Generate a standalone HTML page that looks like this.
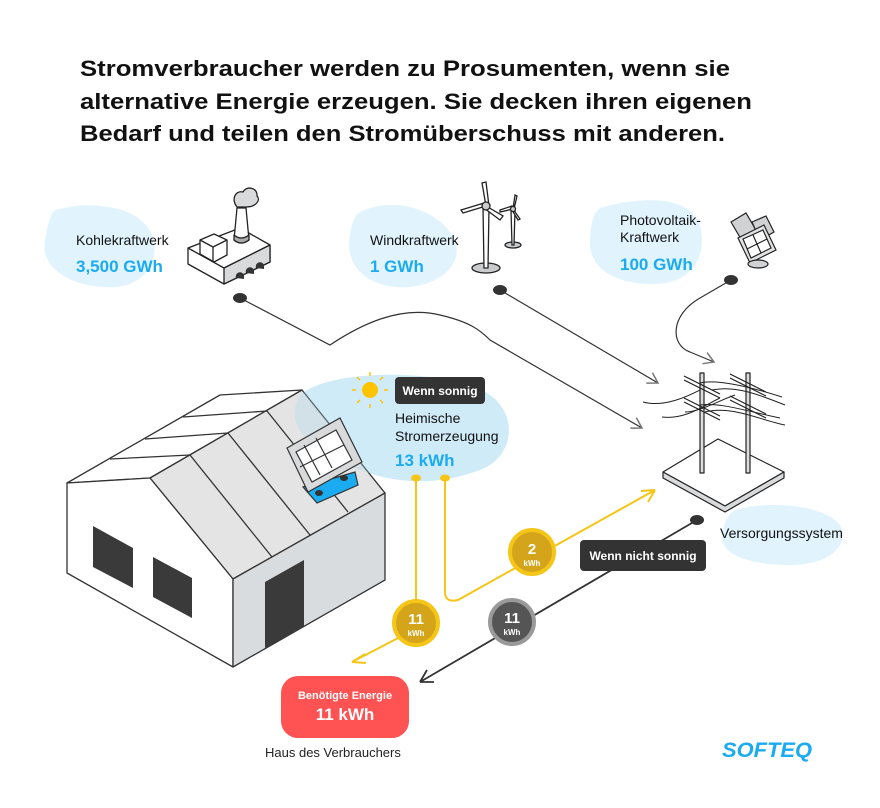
<!DOCTYPE html>
<html><head><meta charset="utf-8"><style>
html,body{margin:0;padding:0;background:#fff;}
svg{display:block;}
text{font-family:"Liberation Sans",sans-serif;}
</style></head><body>
<svg width="880" height="808" viewBox="0 0 880 808" xmlns="http://www.w3.org/2000/svg">
<defs>
<marker id="ag" markerWidth="14" markerHeight="14" refX="12" refY="7" orient="auto" markerUnits="userSpaceOnUse"><path d="M2,1 L12,7 L2,13" fill="none" stroke="#777" stroke-width="1.5"/></marker>
</defs>
<g font-weight="bold" font-size="22" fill="#111">
<text x="80" y="76" textLength="650" lengthAdjust="spacingAndGlyphs">Stromverbraucher werden zu Prosumenten, wenn sie</text>
<text x="80" y="109" textLength="672" lengthAdjust="spacingAndGlyphs">alternative Energie erzeugen. Sie decken ihren eigenen</text>
<text x="80" y="141" textLength="645" lengthAdjust="spacingAndGlyphs">Bedarf und teilen den Stromüberschuss mit anderen.</text>
</g>
<g fill="#e1f4fd">
<path d="M55,210 C90,200 140,205 152,235 C162,265 140,290 105,287 C65,285 40,265 45,240 C48,225 50,214 55,210Z"/>
<path d="M360,212 C395,195 440,210 455,240 C465,270 430,290 395,287 C360,283 345,260 350,235 C352,222 355,215 360,212Z"/>
<path d="M600,208 C640,196 690,195 700,225 C708,260 690,285 650,284 C610,283 588,265 590,240 C591,222 594,212 600,208Z"/>
<path d="M735,510 C770,500 825,505 840,525 C850,545 830,565 790,565 C750,565 720,555 722,535 C724,522 728,514 735,510Z"/>
</g>
<text x="76" y="245" font-size="14" fill="#111">Kohlekraftwerk</text>
<text x="76" y="272" font-size="17" font-weight="bold" fill="#1aabf0">3,500 GWh</text>
<text x="370" y="245" font-size="14" fill="#111">Windkraftwerk</text>
<text x="370" y="272" font-size="17" font-weight="bold" fill="#1aabf0">1 GWh</text>
<text x="620" y="225" font-size="14" fill="#111">Photovoltaik-</text>
<text x="620" y="242" font-size="14" fill="#111">Kraftwerk</text>
<text x="620" y="270" font-size="17" font-weight="bold" fill="#1aabf0">100 GWh</text>
<!-- factory -->
<g stroke="#222" stroke-width="1.3" stroke-linejoin="round">
<path d="M188,248 L240,228 L270,245 L270,262 L224,284 L188,264Z" fill="#fff"/>
<path d="M188,248 L224,268 L270,245" fill="none"/>
<path d="M224,268 L224,284 L270,262 L270,245Z" fill="#d8dadc"/>
<path d="M200,240 L214,234 L227,240 L227,255 L214,262 L200,254Z" fill="#fff"/>
<path d="M200,240 L213,247 L227,240 M213,247 L213,262" fill="none"/>
<path d="M234,240 L237,208 L246,208 L249,240 Q241,246 234,240Z" fill="#fff"/>
<path d="M234,235 Q241,241 249,235 L249,240 Q241,246 234,240Z" fill="#aaa"/>
<path d="M237,207 C231,200 235,190 243,192 C247,185 258,188 257,196 C261,200 256,207 246,207Z" fill="#d8dadc"/>
</g>
<g fill="#333"><path d="M236,278 a4,4 0 0 1 8,-3 v4z"/><path d="M246,273 a4,4 0 0 1 8,-3 v4z"/><path d="M256,268 a4,4 0 0 1 8,-3 v4z"/></g>
<!-- turbines -->
<g stroke="#222" stroke-width="1.3" fill="#fff">
<ellipse cx="486" cy="268" rx="14" ry="5" fill="#c9ccce"/>
<path d="M483,207 L489,207 L488,268 L484,268Z"/>
<path d="M486,206 L463,213 L461,210 L484,203Z"/>
<path d="M486,206 L482,183 L486,182 L489,206Z"/>
<path d="M486,206 L503,216 L500,220 L484,208Z"/>
<circle cx="486" cy="206" r="4" fill="#ccc"/>
<ellipse cx="513" cy="245" rx="8" ry="3" fill="#c9ccce"/>
<path d="M511,210 L515,210 L514,245 L512,245Z"/>
<path d="M513,209 L500,212 L500,210 L512,206Z"/>
<path d="M513,209 L515,195 L517,196 L514,209Z"/>
<path d="M513,209 L520,219 L518,220 L512,210Z"/>
<circle cx="513" cy="209" r="2.5" fill="#ccc"/>
</g>
<!-- pv plant -->
<g stroke="#222" stroke-width="1.2" fill="#d0d2d4">
<path d="M731,222 L746,213 L756,230 L741,239Z"/>
<path d="M752,222 L766,216 L774,232 L760,240Z"/>
<path d="M738,238 L764,225 L776,250 L750,263Z" fill="#e0e2e4"/>
<path d="M743,239 L763,230 L771,248 L751,258Z" fill="#fff"/>
<path d="M747,249 L767,239 M753,235 L761,253" fill="none"/>
<ellipse cx="758" cy="264" rx="10" ry="4"/>
</g>
<g fill="#333"><ellipse cx="240" cy="298" rx="7" ry="5"/><ellipse cx="500" cy="290" rx="7" ry="5"/><ellipse cx="731" cy="280" rx="7" ry="5"/><ellipse cx="697" cy="520" rx="7" ry="5"/></g>
<g fill="none" stroke="#333" stroke-width="1.2">
<path d="M240,298 L330,345 C360,325 400,305 440,315 C470,322 480,330 490,340 L642,428" marker-end="url(#ag)"/>
<path d="M500,290 L658,383" marker-end="url(#ag)"/>
<path d="M731,280 L700,298 C670,315 670,345 690,352 L714,362" marker-end="url(#ag)"/>
</g>
<!-- tower -->
<g stroke="#222" stroke-width="1.2" stroke-linejoin="round">
<path d="M663,472 L718,439 L784,472 L725,506Z" fill="#fff"/>
<path d="M663,472 L663,478 L725,512 L784,478 L784,472 L725,506Z" fill="#d8dadc"/>
<rect x="700" y="373" width="4" height="100" fill="#ddd"/>
<rect x="746" y="373" width="4" height="100" fill="#ddd"/>
<path d="M684,376 L720,394 M684,380 L720,398 M730,374 L766,392 M730,378 L766,396 M684,398 L720,416 M684,402 L720,420 M730,396 L766,414 M730,400 L766,418" fill="none"/>
</g>
<g fill="none" stroke="#222" stroke-width="1">
<path d="M700,383 C720,378 760,390 782,397"/><path d="M712,390 C735,385 760,395 785,405"/>
<path d="M643,402 C665,408 690,395 700,390"/><path d="M662,417 C685,420 705,405 720,398"/>
<path d="M700,405 C720,402 750,412 780,418"/><path d="M705,412 C730,405 760,420 785,425"/>
<path d="M685,412 C700,412 720,400 735,395"/>
</g>
<text x="720" y="538" font-size="14" fill="#111">Versorgungssystem</text>
<!-- house blob behind -->
<path d="M300,395 C330,370 420,370 470,385 C520,400 520,455 480,470 C440,485 400,485 360,470 C320,455 280,430 300,395Z" fill="#e1f4fd"/>
<!-- house -->
<g stroke="#333" stroke-width="1.3" stroke-linejoin="round">
<path d="M67,483 L150,478 L302,390 L220,395Z" fill="#fff"/>
<path d="M150,478 L233,579 L385,493 L302,390Z" fill="#e4e4e4"/>
<path d="M67,483 L150,478 L233,579 L233,667 L67,573Z" fill="#fff"/>
<path d="M233,579 L385,493 L385,580 L233,667Z" fill="#d9dcdf"/>
<path d="M110,459 L190,455 L272,557 M145,439 L228,433 L310,535 M183,417 L267,411 L348,512" fill="none"/>
</g>
<path d="M300,395 C330,370 420,370 470,385 C520,400 520,455 480,470 C440,485 400,485 360,470 C320,455 280,430 300,395Z" fill="#a9d6ee" opacity="0.3"/>
<g fill="#3a3a3a"><path d="M93,526 L133,548 L133,588 L93,567Z"/><path d="M153,557 L192,578 L192,618 L153,597Z"/><path d="M265,582 L304,560 L304,627 L265,648Z"/></g>
<g stroke="#333" stroke-width="1.2">
<path d="M303,487 L355,472 L358,485 L317,503Z" fill="#1aabf0"/>
<path d="M287,448 L340,418 L362,462 L308,492Z" fill="#d8dadc"/>
<path d="M296,452 L336,430 L352,460 L312,482Z" fill="#fff"/>
<path d="M304,445 L320,475 M316,438 L332,468 M300,467 L344,445" fill="none"/>
</g>
<ellipse cx="319" cy="493" rx="4" ry="3" fill="#333"/><ellipse cx="344" cy="478" rx="4" ry="3" fill="#333"/>
<g stroke="#ffc400" stroke-width="1.5"><path d="M370,376 v-4 M370,404 v4 M356,390 h-4 M384,390 h4 M360,380 l-3,-3 M380,380 l3,-3 M360,400 l-3,3 M380,400 l3,3"/></g>
<circle cx="370" cy="390" r="8" fill="#ffc400"/>
<rect x="395" y="377" width="90" height="27" rx="4" fill="#333"/>
<text x="440" y="395" font-size="12" font-weight="bold" fill="#fff" text-anchor="middle">Wenn sonnig</text>
<text x="395" y="423" font-size="14" fill="#111">Heimische</text>
<text x="395" y="441" font-size="14" fill="#111">Stromerzeugung</text>
<text x="395" y="466" font-size="17" font-weight="bold" fill="#1aabf0">13 kWh</text>
<g fill="none" stroke="#f5c518" stroke-width="2">
<path d="M416,478 L416,605"/>
<path d="M402,636 L352,662 M352,662 L365,654 M352,662 L366,663"/>
<path d="M445,478 L445,592 Q445,603 458,600 L655,490 M655,490 L641,491 M655,490 L648,502"/>
</g>
<g fill="#f5c518"><ellipse cx="416" cy="478" rx="5" ry="3.5"/><ellipse cx="445" cy="478" rx="5" ry="3.5"/></g>
<path d="M697,520 L420,682 M420,682 L434,682 M420,682 L427,670" fill="none" stroke="#333" stroke-width="1.8"/>
<circle cx="416" cy="623" r="22" fill="#d4a51b" stroke="#f5c518" stroke-width="4"/>
<text x="416" y="624" font-size="15" font-weight="bold" fill="#fff" text-anchor="middle">11</text>
<text x="416" y="636" font-size="8" font-weight="bold" fill="#fff" text-anchor="middle">kWh</text>
<circle cx="532" cy="552" r="22" fill="#d4a51b" stroke="#f5c518" stroke-width="4"/>
<text x="532" y="554" font-size="15" font-weight="bold" fill="#fff" text-anchor="middle">2</text>
<text x="532" y="566" font-size="8" font-weight="bold" fill="#fff" text-anchor="middle">kWh</text>
<circle cx="512" cy="622" r="22" fill="#555" stroke="#9a9a9a" stroke-width="4"/>
<text x="512" y="623" font-size="15" font-weight="bold" fill="#fff" text-anchor="middle">11</text>
<text x="512" y="635" font-size="8" font-weight="bold" fill="#fff" text-anchor="middle">kWh</text>
<rect x="580" y="540" width="126" height="31" rx="4" fill="#333"/>
<text x="643" y="560" font-size="12" font-weight="bold" fill="#fff" text-anchor="middle">Wenn nicht sonnig</text>
<rect x="281" y="676" width="128" height="62" rx="17" fill="#ff5252"/>
<text x="345" y="699" font-size="11" font-weight="bold" fill="#fff" text-anchor="middle">Benötigte Energie</text>
<text x="345" y="720" font-size="17" font-weight="bold" fill="#fff" text-anchor="middle">11 kWh</text>
<text x="265" y="757" font-size="13" fill="#222">Haus des Verbrauchers</text>
<text x="722" y="757" font-size="21" font-weight="bold" font-style="italic" fill="#1aabf0" textLength="90" lengthAdjust="spacingAndGlyphs">SOFTEQ</text>
</svg>
</body></html>
